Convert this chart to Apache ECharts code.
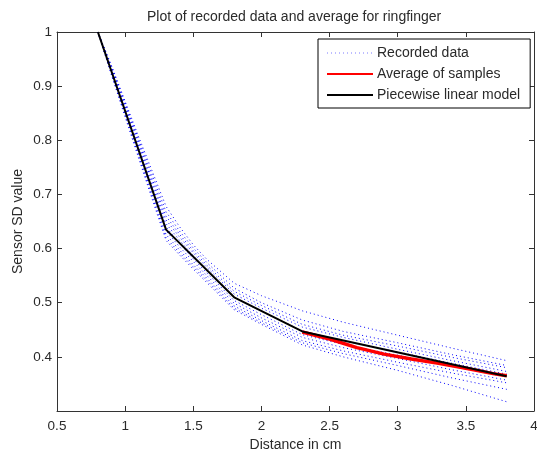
<!DOCTYPE html>
<html>
<head>
<meta charset="utf-8">
<script src="https://cdn.jsdelivr.net/npm/echarts@6/dist/echarts.min.js"></script>
<style>html,body{margin:0;padding:0;background:#fff;}#c{width:537px;height:452px;}</style>
</head>
<body>
<div id="c"></div>
<script>
// ---- data ----
const recordedX = [0.8, 0.9, 1.0, 1.1, 1.2, 1.3, 1.4, 1.5, 1.6, 1.8, 2.0, 2.3, 2.6, 3.0, 3.4, 3.8];
const sample1  = [1.0, 0.938, 0.872, 0.806, 0.742, 0.678, 0.640, 0.607, 0.580, 0.536, 0.513, 0.485, 0.464, 0.440, 0.416, 0.393];
const sample2  = [1.0, 0.936, 0.869, 0.801, 0.735, 0.668, 0.632, 0.601, 0.574, 0.527, 0.500, 0.468, 0.447, 0.426, 0.404, 0.384];
const sample3  = [1.0, 0.934, 0.866, 0.797, 0.728, 0.660, 0.626, 0.596, 0.569, 0.521, 0.495, 0.460, 0.440, 0.420, 0.399, 0.380];
const sample4  = [1.0, 0.932, 0.863, 0.793, 0.722, 0.653, 0.621, 0.592, 0.565, 0.516, 0.490, 0.455, 0.436, 0.414, 0.393, 0.373];
const sample5  = [1.0, 0.930, 0.859, 0.788, 0.716, 0.646, 0.615, 0.587, 0.560, 0.510, 0.484, 0.448, 0.430, 0.409, 0.388, 0.368];
const sample6  = [1.0, 0.928, 0.856, 0.784, 0.711, 0.640, 0.609, 0.581, 0.555, 0.504, 0.478, 0.441, 0.423, 0.403, 0.382, 0.363];
const sample7  = [1.0, 0.926, 0.852, 0.779, 0.705, 0.633, 0.603, 0.576, 0.550, 0.499, 0.472, 0.436, 0.417, 0.397, 0.376, 0.357];
const sample8  = [1.0, 0.924, 0.849, 0.774, 0.699, 0.626, 0.597, 0.570, 0.545, 0.494, 0.467, 0.430, 0.411, 0.390, 0.370, 0.352];
const sample9  = [1.0, 0.922, 0.846, 0.770, 0.694, 0.620, 0.592, 0.566, 0.541, 0.490, 0.463, 0.426, 0.406, 0.384, 0.361, 0.340];
const sample10 = [1.0, 0.920, 0.843, 0.766, 0.690, 0.615, 0.588, 0.562, 0.537, 0.487, 0.460, 0.422, 0.400, 0.375, 0.347, 0.317];
const samples = [sample1, sample2, sample3, sample4, sample5, sample6, sample7, sample8, sample9, sample10];

const averageX = [2.3, 2.5, 2.7, 2.9, 3.1, 3.3, 3.5, 3.7, 3.8];
const averageY = [0.446, 0.433, 0.417, 0.405, 0.396, 0.388, 0.379, 0.369, 0.365];

const modelX = [0.8, 1.3, 1.8, 2.3, 3.8];
const modelY = [1.0, 0.635, 0.510, 0.447, 0.364];

const xTicks = [0.5, 1, 1.5, 2, 2.5, 3, 3.5, 4];
const yTicks = [0.3, 0.4, 0.5, 0.6, 0.7, 0.8, 0.9, 1];

// ---- chart ----
const pairs = (xs, ys) => xs.map((x, i) => [x, ys[i]]);
const FONT = 'Liberation Sans, Arial, sans-serif';
const TXT = '#2a2a2a';
const AX = '#333';

const series = samples.map(s => ({
  name: 'Recorded data', type: 'line', symbol: 'none', silent: true,
  data: pairs(recordedX, s),
  lineStyle: { color: '#0000ff', width: 1, type: [1, 3] },
  itemStyle: { color: '#0000ff' }
}));
series.push({
  name: 'Average of samples', type: 'line', symbol: 'none',
  data: pairs(averageX, averageY),
  lineStyle: { color: '#ff0000', width: 3.5 }, itemStyle: { color: '#ff0000' }
});
series.push({
  name: 'Piecewise linear model', type: 'line', symbol: 'none',
  data: pairs(modelX, modelY),
  lineStyle: { color: '#000000', width: 2 }, itemStyle: { color: '#000000' }
});

const fmt = v => { const r = Math.round(v * 10) / 10; return Math.abs(r - 0.3) < 1e-9 ? '' : String(r); };
const tickCommon = { show: true, inside: true, length: 5, lineStyle: { color: AX } };

const option = {
  animation: false,
  backgroundColor: '#fff',
  textStyle: { fontFamily: FONT },
  title: {
    text: 'Plot of recorded data and average for ringfinger',
    left: 142, top: 5,
    textStyle: { fontSize: 14, fontWeight: 'normal', color: TXT, fontFamily: FONT }
  },
  grid: { left: 57, right: 3, top: 32, bottom: 41, containLabel: false, outerBoundsMode: 'none' },
  legend: {
    orient: 'vertical', left: 318, top: 39,
    width: 211,
    padding: [7, 10, 6, 8],
    itemWidth: 46, itemHeight: 14, itemGap: 7,
    borderColor: '#000', borderWidth: 1, backgroundColor: '#fff',
    itemStyle: { opacity: 0 },
    textStyle: { fontSize: 14, color: TXT, fontFamily: FONT, padding: [0, 0, 0, -1] },
    data: [
      { name: 'Recorded data', lineStyle: { color: '#7a7aff', width: 1, type: [1, 3] } },
      'Average of samples',
      'Piecewise linear model'
    ]
  },
  xAxis: [{
    type: 'value', min: xTicks[0], max: xTicks[xTicks.length - 1], interval: 0.5,
    name: 'Distance in cm', nameLocation: 'middle', nameGap: 26,
    nameTextStyle: { fontSize: 14, color: TXT, fontFamily: FONT },
    axisLine: { show: true, lineStyle: { color: AX, width: 1 } },
    axisTick: tickCommon,
    axisLabel: { fontSize: 13.5, color: TXT, margin: 8, fontFamily: FONT, formatter: v => String(Math.round(v * 10) / 10) },
    splitLine: { show: false }
  }, {
    type: 'value', position: 'top', min: xTicks[0], max: xTicks[xTicks.length - 1], interval: 0.5,
    axisLine: { show: true, lineStyle: { color: AX, width: 1 } },
    axisTick: tickCommon, axisLabel: { show: false }, splitLine: { show: false }
  }],
  yAxis: [{
    type: 'value', min: yTicks[0], max: yTicks[yTicks.length - 1], interval: 0.1,
    name: 'Sensor SD value', nameLocation: 'middle', nameGap: 32, nameMoveOverlap: false,
    nameTextStyle: { fontSize: 14, color: TXT, fontFamily: FONT },
    axisLine: { show: true, lineStyle: { color: AX, width: 1 } },
    axisTick: tickCommon,
    axisLabel: { fontSize: 13.5, color: TXT, margin: 5, fontFamily: FONT, formatter: fmt },
    splitLine: { show: false }
  }, {
    type: 'value', position: 'right', min: yTicks[0], max: yTicks[yTicks.length - 1], interval: 0.1,
    axisLine: { show: true, lineStyle: { color: AX, width: 1 } },
    axisTick: tickCommon, axisLabel: { show: false }, splitLine: { show: false }
  }],
  series: series
};

const chart = echarts.init(document.getElementById('c'), null, { renderer: 'canvas' });
chart.setOption(option);
</script>
</body>
</html>
